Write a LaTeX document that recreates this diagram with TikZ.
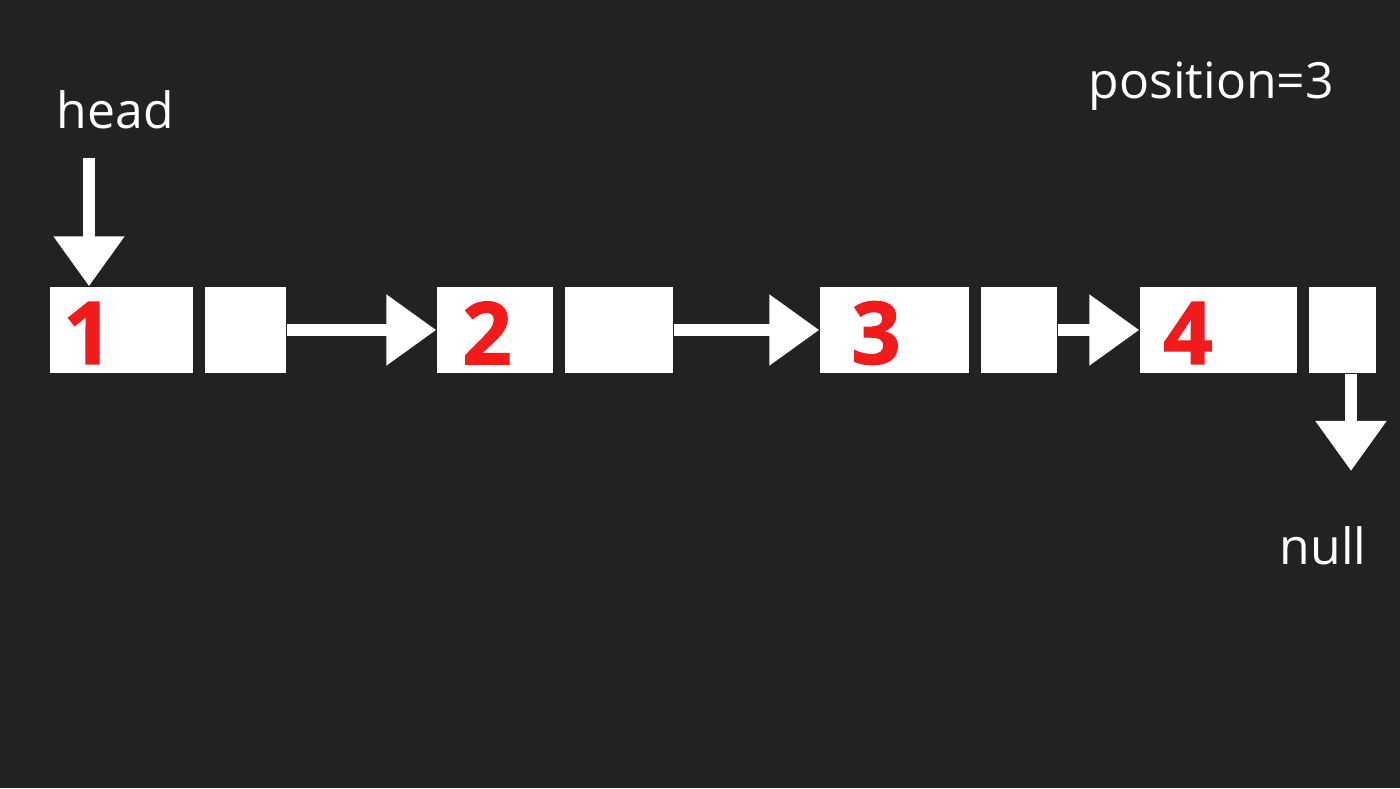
\documentclass[tikz,border=0pt]{standalone}
\usepackage{fontspec}
\setmainfont{Open Sans}
\newfontfamily\numfont{Open Sans}[BoldFeatures={FakeBold=1.2}]
\usetikzlibrary{arrows.meta,positioning,calc}
\definecolor{bgdark}{HTML}{222222}
\definecolor{numred}{HTML}{F21B1B}

\begin{document}
\begin{tikzpicture}[>={Triangle[width=0.68cm,length=0.5cm]},
  cell/.style={fill=white, minimum height=0.86cm, inner sep=0pt},
  val/.style={text=numred, font=\fontsize{24.7}{30}\numfont\bfseries, inner sep=0pt},
  lbl/.style={text=white, font=\fontsize{14.2}{17}\selectfont, inner sep=0pt},
  ptr/.style={->, draw=white, line width=0.12cm}]
  \fill[bgdark] (0,0) rectangle (14,7.88);

  % nodes: data part and next part
  \node[cell, minimum width=1.43cm] (d1) at (1.215,4.58) {};
  \node[cell, minimum width=0.81cm] (n1) at (2.455,4.58) {};
  \node[cell, minimum width=1.16cm] (d2) at (4.95,4.58) {};
  \node[cell, minimum width=1.08cm] (n2) at (6.19,4.58) {};
  \node[cell, minimum width=1.49cm] (d3) at (8.945,4.58) {};
  \node[cell, minimum width=0.76cm] (n3) at (10.19,4.58) {};
  \node[cell, minimum width=1.57cm] (d4) at (12.185,4.58) {};
  \node[cell, minimum width=0.67cm] (n4) at (13.425,4.58) {};

  \node[val] (v1) at (0.88,4.55) {1};
  \node[val] (v2) at (4.87,4.55) {2};
  \node[val] (v3) at (8.76,4.55) {3};
  \node[val] (v4) at (11.88,4.55) {4};

  % labels
  \node[lbl, anchor=base west] (head) at (0.56,6.59) {head};
  \node[lbl, anchor=base west] (pos) at (10.88,6.89) {position=3};
  \node[lbl, anchor=base west] (null) at (12.79,2.23) {null};

  % pointers
  \coordinate (hstart) at (0.89,6.30);
  \coordinate (ntip) at (13.51,3.17);
  \draw[ptr] (hstart) -- (hstart |- d1.north);
  \draw[ptr] (n1.east) -- (d2.west);
  \draw[ptr] (n2.east) -- (d3.west);
  \draw[ptr] (n3.east) -- (d4.west);
  \draw[ptr] (ntip |- n4.south) -- (ntip);
\end{tikzpicture}
\end{document}
